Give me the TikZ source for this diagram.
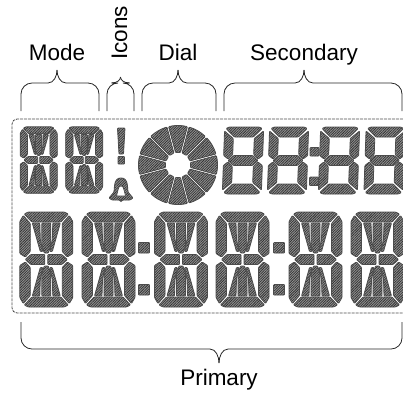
\documentclass[tikz,border=0pt]{standalone}
\usepackage{fontspec}
\setmainfont{Liberation Sans}
\usetikzlibrary{patterns.meta}

% half of a 14 segment digit, seen from its centre
\newcommand{\alphahalf}{
    \draw[segment] (-18,-47.5) -- (18,-47.5) -- (22,-45.5) -- (14.5,-37.5) -- (-14.5,-37.5) -- (-22,-45.5) -- cycle;
    \draw[segment] (-26.5,-38) -- (-23,-44) -- (-16,-36) -- (-16,-8) -- (-21,-2.5) -- (-26.5,-6) -- cycle;
    \draw[segment] (26.5,-38) -- (23,-44) -- (16,-36) -- (16,-8) -- (21,-2.5) -- (26.5,-6) -- cycle;
    \draw[segment] (-4.5,-36.5) -- (4.5,-36.5) -- (4.5,-14) -- (2,-6.5) -- (-2,-6.5) -- (-4.5,-14) -- cycle;
    \draw[segment] (-14,-36.5) -- (-6.5,-36.5) -- (-6,-20) -- (-3.5,-8) -- (-6,-8) -- cycle;
    \draw[segment] (14,-36.5) -- (6.5,-36.5) -- (6,-20) -- (3.5,-8) -- (6,-8) -- cycle;
}
% half of a 7 segment digit
\newcommand{\clockhalf}{
    \draw[segment] (-15,-33.5) -- (15,-33.5) -- (18,-32) -- (9.5,-23.5) -- (-9.5,-23.5) -- (-18,-32) -- cycle;
    \draw[segment] (-19.5,-29.5) -- (-10.5,-22) -- (-10.5,-6) -- (-15,-1.5) -- (-19.5,-5) -- cycle;
    \draw[segment] (19.5,-29.5) -- (10.5,-22) -- (10.5,-6) -- (15,-1.5) -- (19.5,-5) -- cycle;
}
% x left, x right, x tip, y bar, y end, y tip
\newcommand{\bracket}[6]{
    \draw[bracket,rounded corners=11] (#1,#5) -- (#1,#4) -- ({#3-9},#4);
    \draw[bracket] ({#3-9},#4) .. controls ({#3-3},#4) and (#3,{#4+0.55*(#6-#4)}) .. (#3,#6);
    \draw[bracket] ({#3+9},#4) .. controls ({#3+3},#4) and (#3,{#4+0.55*(#6-#4)}) .. (#3,#6);
    \draw[bracket,rounded corners=11] (#2,#5) -- (#2,#4) -- ({#3+9},#4);
}

\begin{document}
\begin{tikzpicture}[
    x=1pt, y=-1pt,
    segment/.style={draw=black!70, line width=.8, rounded corners=.8, preaction={fill=black!42},
        pattern={Lines[angle=45,distance=1.8pt,line width=.75pt]}, pattern color=black!80},
    bracket/.style={draw=black!85, line width=.8},
    outline/.style={draw=black!70, line width=.8, dash pattern=on 3pt off 1pt},
    caption/.style={font=\fontsize{22.5}{24}\selectfont, text=black, inner sep=0pt, anchor=base},
    alphadigit/.pic={
        \alphahalf
        \begin{scope}[yscale=-1]
            \alphahalf
        \end{scope}
        \draw[segment] (-21,0) -- (-15.5,-5) -- (-1.5,-5) -- (-1.5,5) -- (-15.5,5) -- cycle;
        \draw[segment] (21,0) -- (15.5,-5) -- (1.5,-5) -- (1.5,5) -- (15.5,5) -- cycle;
    },
    clockdigit/.pic={
        \begin{scope}[xslant=.035]
            \clockhalf
            \begin{scope}[yscale=-1]
                \clockhalf
            \end{scope}
            \draw[segment] (-15,0) -- (-9.5,-5) -- (9.5,-5) -- (15,0) -- (9.5,5) -- (-9.5,5) -- cycle;
        \end{scope}
    }
]
\useasboundingbox (0,0) rectangle (403,392);

% captions
\node[caption] (mode) at (57,60) {Mode};
\node[caption, rotate=90] (icons) at (127,33) {Icons};
\node[caption] (dial) at (178,60) {Dial};
\node[caption] (secondary) at (304,60) {Secondary};
\node[caption] (primary) at (219,385) {Primary};

% brackets
\bracket{21}{99}{57}{83}{111}{70}
\bracket{107}{134}{120.5}{83}{111}{77}
\bracket{142}{216}{178}{83}{111}{70}
\bracket{224}{402}{304}{83}{111}{70}
\bracket{21}{402}{219}{349}{322}{363}

% panel, open on the right
\draw[outline, rounded corners=5] (403,119) -- (12,119) -- (12,313) -- (403,313);

% mode digits
\foreach \x in {38.7,84.2}
    \pic[scale=.7] at (\x,160) {alphadigit};

% icons
\draw[segment] (117.5,128) -- (125,128) -- (123.5,154) -- (119,154) -- cycle;
\draw[segment] (118,156.5) rectangle (124.5,164);
\draw[segment] (109,198) -- (114,192) -- (114.5,186) .. controls (115,180) and (118,178) .. (121,178)
    .. controls (124,178) and (127,180) .. (127.5,186) -- (128,192) -- (133,198) -- (130,200) -- (112,200) -- cycle;
\draw[draw=black!75, fill=white, line width=.6] (116.5,196) -- (118,190) .. controls (118.5,184.5) and (123.5,184.5) .. (124,190) -- (125.5,196) -- cycle;
\fill[black!70] (118.5,200) -- (123.5,200) -- (121,202) -- cycle;

% dial
\begin{scope}[shift={(178,165)}, x=1pt, y=1pt]
    \foreach \a in {15,45,...,345}
        \draw[segment] ({\a+1.2}:39.5) arc[start angle=\a+1.2, end angle=\a+28.8, radius=39.5]
            -- ({\a+26}:12.5) arc[start angle=\a+26, end angle=\a+4, radius=12.5] -- cycle;
\end{scope}

% secondary digits
\foreach \x in {243,288,339,384.5}
    \pic at (\x,160.5) {clockdigit};
\draw[segment] (310,147.5) rectangle (319,156);
\draw[segment] (309.5,177) rectangle (318.5,185.5);

% primary digits
\foreach \x in {46.3,108.5,181,242.5,315.5,377.5}
    \pic at (\x,259.5) {alphadigit};
\foreach \x in {138.5,273.5} {
    \draw[segment] (\x,242.5) rectangle ({\x+11},253);
    \draw[segment] (\x,284.5) rectangle ({\x+11},295);
}

\end{tikzpicture}
\end{document}
